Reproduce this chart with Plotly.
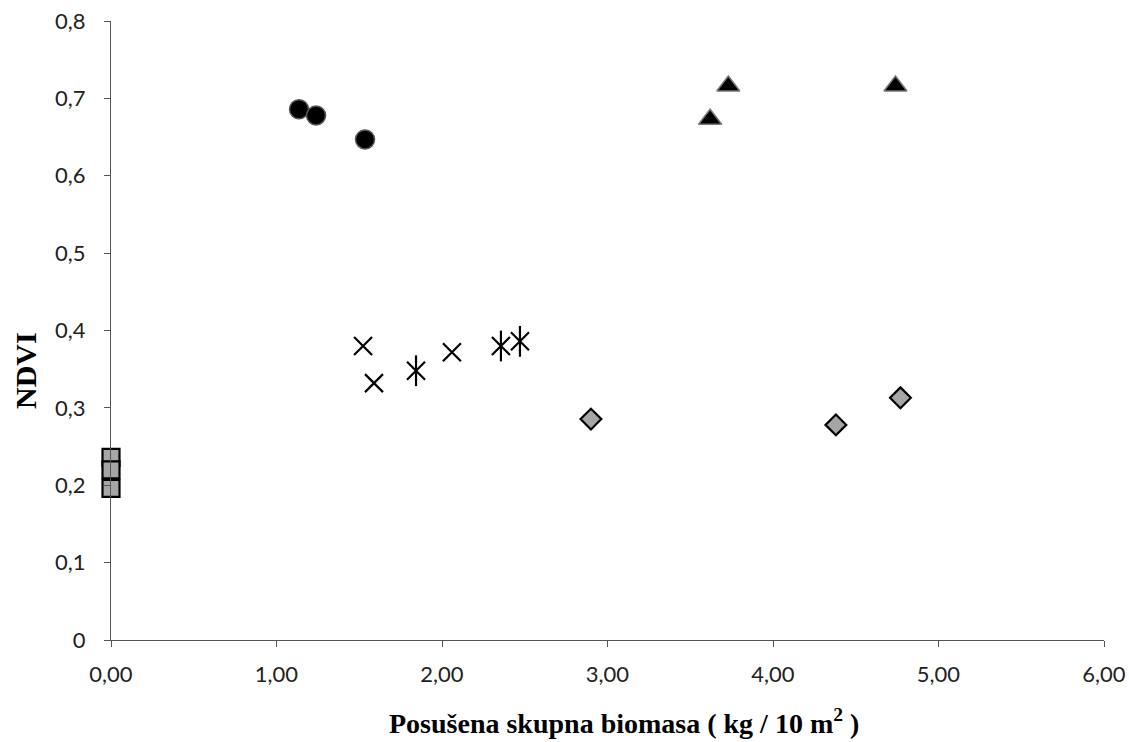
import plotly.graph_objects as go

# Data
sq_x = [0.0, 0.0, 0.0]
sq_y = [0.236, 0.220, 0.196]

circ_x = [1.136, 1.239, 1.535]
circ_y = [0.686, 0.678, 0.647]

tri_x = [3.62, 3.73, 4.74]
tri_y = [0.673, 0.716, 0.716]

cross_x = [1.523, 1.589, 2.06]
cross_y = [0.380, 0.332, 0.372]

star_x = [1.843, 2.356, 2.471]
star_y = [0.348, 0.380, 0.386]

dia_x = [2.90, 4.38, 4.77]
dia_y = [0.2855, 0.278, 0.313]

x_ticks = [0, 1, 2, 3, 4, 5, 6]
y_ticks = [0, 0.1, 0.2, 0.3, 0.4, 0.5, 0.6, 0.7, 0.8]
y_ticktext = ["0", "0,1", "0,2", "0,3", "0,4", "0,5", "0,6", "0,7", "0,8"]

fig = go.Figure()
fig.add_trace(go.Scatter(x=sq_x, y=sq_y, mode="markers", cliponaxis=False,
                         marker=dict(symbol="square", size=17, color="#a6a6a6",
                                     line=dict(color="black", width=2.2))))
fig.add_trace(go.Scatter(x=circ_x, y=circ_y, mode="markers", cliponaxis=False,
                         marker=dict(symbol="circle", size=19, color="black",
                                     line=dict(color="#555555", width=1.5))))
fig.add_trace(go.Scatter(x=tri_x, y=tri_y, mode="markers", cliponaxis=False,
                         marker=dict(symbol="triangle-up", size=20, color="black",
                                     line=dict(color="#777777", width=1.5))))
fig.add_trace(go.Scatter(x=cross_x, y=cross_y, mode="markers", cliponaxis=False,
                         marker=dict(symbol="x-thin", size=18, color="black",
                                     line=dict(color="black", width=2.2))))
fig.add_trace(go.Scatter(x=star_x, y=star_y, mode="markers", cliponaxis=False,
                         marker=dict(symbol="x-thin", size=18, color="black",
                                     line=dict(color="black", width=2.2))))
fig.add_trace(go.Scatter(x=star_x, y=star_y, mode="markers", cliponaxis=False,
                         marker=dict(symbol="line-ns", size=22, color="black",
                                     line=dict(color="black", width=2.2))))
fig.add_trace(go.Scatter(x=dia_x, y=dia_y, mode="markers", cliponaxis=False,
                         marker=dict(symbol="diamond", size=16, color="#a6a6a6",
                                     line=dict(color="black", width=2.2))))

fig.update_layout(
    width=1129, height=742,
    margin=dict(l=111, r=25, t=21, b=102),
    paper_bgcolor="white", plot_bgcolor="white",
    showlegend=False,
    separators=", ",
    font=dict(family="Lato, Open Sans, sans-serif", size=22, color="#222222"),
    annotations=[
        dict(text="<b>Posušena skupna biomasa ( kg / 10 m<sup>2</sup> )</b>",
             xref="paper", yref="paper", x=(624 - 111) / (1104 - 111), y=-(722 - 640) / 619,
             xanchor="center", yanchor="middle", showarrow=False,
             font=dict(family="Liberation Serif, Times New Roman, serif", size=28, color="black")),
        dict(text="<b>NDVI</b>", textangle=-90,
             xref="paper", yref="paper", x=-(111 - 26) / (1104 - 111), y=(640 - 371) / 619,
             xanchor="center", yanchor="middle", showarrow=False,
             font=dict(family="Liberation Serif, Times New Roman, serif", size=30, color="black")),
    ],
)
fig.update_xaxes(
    range=[0, 6], tickvals=x_ticks, tickformat=".2f", automargin=False,
    showgrid=False, zeroline=False, showline=True, linecolor="#555555", linewidth=1,
    ticks="outside", ticklen=6, tickcolor="#555555", ticklabelstandoff=9,
    tickfont=dict(size=22),
)
fig.update_yaxes(
    range=[0, 0.8], tickvals=y_ticks, ticktext=y_ticktext, automargin=False,
    showgrid=False, zeroline=False, showline=True, linecolor="#555555", linewidth=1,
    ticks="outside", ticklen=6, tickcolor="#555555", ticklabelstandoff=14,
    tickfont=dict(size=22),
)

fig.write_html("out.html")
